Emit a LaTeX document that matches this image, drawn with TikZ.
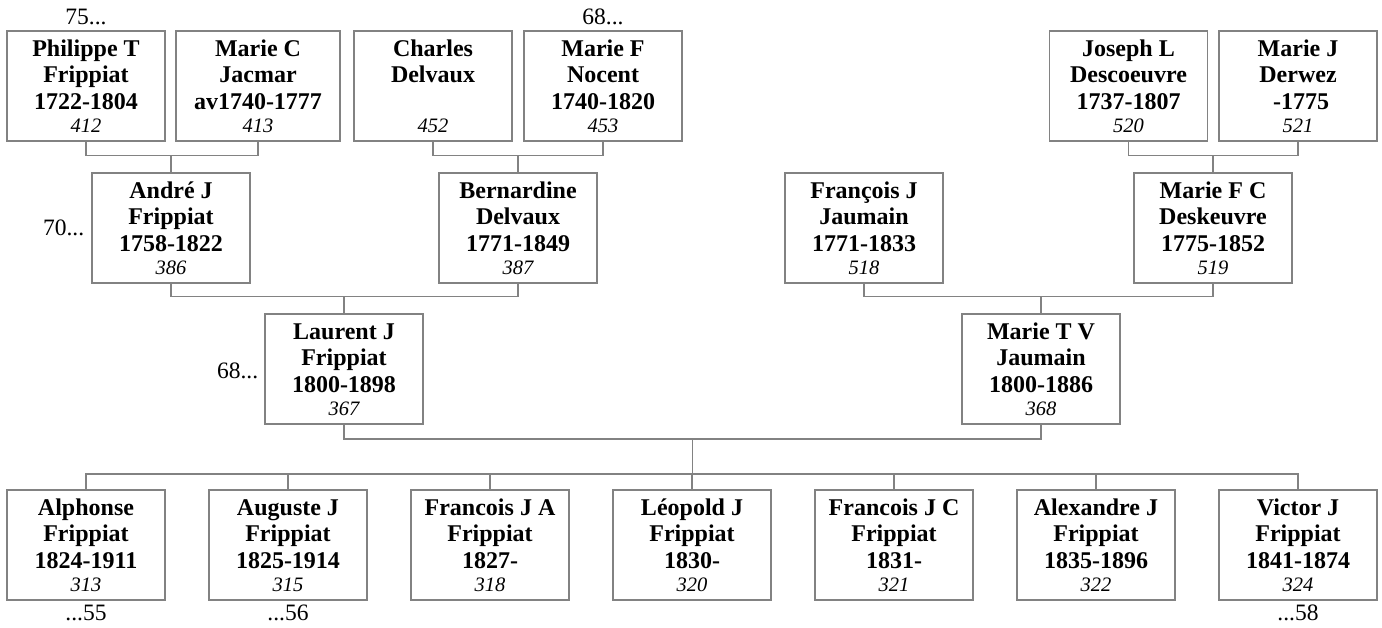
\documentclass[tikz,border=0pt]{standalone}
\usepackage{fontspec}
\setmainfont{Liberation Serif}
\definecolor{linegray}{RGB}{130,130,130}
\newcommand{\pers}[4]{\rule{0pt}{17pt}#1\\#2\\\mbox{}#3\\[-3.5pt]{\mdseries\itshape\fontsize{20.5}{21}\selectfont #4}}
\tikzset{
  person/.style={draw=linegray, line width=1.2pt, rectangle, inner sep=0pt,
    minimum width=158pt, minimum height=110pt, align=center,
    font=\fontsize{24}{26.5}\selectfont\bfseries},
  conn/.style={draw=linegray, line width=1.2pt},
  ref/.style={font=\fontsize{23.5}{26}\selectfont, inner sep=0pt}
}
\begin{document}
\begin{tikzpicture}[x=1pt,y=-1pt]
\useasboundingbox (0,0) rectangle (1382,628);
% top row
\node[person] (phil) at (86,86) {\pers{Philippe T}{Frippiat}{1722-1804}{412}};
\node[person, minimum width=164pt] (mc) at (258,86) {\pers{Marie C}{Jacmar}{av1740-1777}{413}};
\node[person] (charles) at (433,86) {\pers{Charles}{Delvaux}{}{452}};
\node[person] (mf) at (603,86) {\pers{Marie F}{Nocent}{1740-1820}{453}};
\node[person] (joseph) at (1128.5,86) {\pers{Joseph L}{Descoeuvre}{1737-1807}{520}};
\node[person] (mj) at (1298,86) {\pers{Marie J}{Derwez}{\ -1775}{521}};
% second row
\node[person] (andre) at (171,228) {\pers{André J}{Frippiat}{1758-1822}{386}};
\node[person] (bern) at (518,228) {\pers{Bernardine}{Delvaux}{1771-1849}{387}};
\node[person] (franc) at (864,228) {\pers{François J}{Jaumain}{1771-1833}{518}};
\node[person] (mfc) at (1213,228) {\pers{Marie F C}{Deskeuvre}{1775-1852}{519}};
% third row
\node[person] (laurent) at (344,369) {\pers{Laurent J}{Frippiat}{1800-1898}{367}};
\node[person] (mtv) at (1041,369) {\pers{Marie T V}{Jaumain}{1800-1886}{368}};
% children
\node[person] (c1) at (86,545) {\pers{Alphonse}{Frippiat}{1824-1911}{313}};
\node[person] (c2) at (288,545) {\pers{Auguste J}{Frippiat}{1825-1914}{315}};
\node[person] (c3) at (490,545) {\pers{Francois J A}{Frippiat}{1827-}{318}};
\node[person] (c4) at (692,545) {\pers{Léopold J}{Frippiat}{1830-}{320}};
\node[person] (c5) at (894,545) {\pers{Francois J C}{Frippiat}{1831-}{321}};
\node[person] (c6) at (1096,545) {\pers{Alexandre J}{Frippiat}{1835-1896}{322}};
\node[person] (c7) at (1298,545) {\pers{Victor J}{Frippiat}{1841-1874}{324}};
% reference labels
\node[ref, anchor=base] (r75) at ([yshift=6pt]phil.north) {75...};
\node[ref, anchor=base] (r68a) at ([yshift=6pt]mf.north) {68...};
\node[ref, anchor=east] (r70) at ([xshift=-7pt]andre.west) {70...};
\node[ref, anchor=east] (r68b) at ([xshift=-6pt,yshift=-2pt]laurent.west) {68...};
\node[ref, anchor=base] (r55) at ([yshift=-20pt]c1.south) {...55};
\node[ref, anchor=base] (r56) at ([yshift=-20pt]c2.south) {...56};
\node[ref, anchor=base] (r58) at ([yshift=-20pt]c7.south) {...58};
% connector coordinates
\path (andre.north) ++(0,-17) coordinate (b1);
\path (bern.north) ++(0,-17) coordinate (b2);
\path (mfc.north) ++(0,-17) coordinate (b3);
\path (laurent.north) ++(0,-17) coordinate (b4);
\path (mtv.north) ++(0,-17) coordinate (b5);
\coordinate (b6) at (692.5,439);
\coordinate (b7) at (692.5,474);
% connectors
\draw[conn] (phil.south) |- (b1) -| (mc.south);
\draw[conn] (b1) -- (andre.north);
\draw[conn] (charles.south) |- (b2) -| (mf.south);
\draw[conn] (b2) -- (bern.north);
\draw[conn] (joseph.south) |- (b3) -| (mj.south);
\draw[conn] (b3) -- (mfc.north);
\draw[conn] (andre.south) |- (b4) -| (bern.south);
\draw[conn] (b4) -- (laurent.north);
\draw[conn] (franc.south) |- (b5) -| (mfc.south);
\draw[conn] (b5) -- (mtv.north);
\draw[conn] (laurent.south) |- (b6) -| (mtv.south);
\draw[conn] (b6) -- (b7);
\draw[conn] (c1.north) |- (b7) -| (c7.north);
\foreach \c in {c2,c3,c4,c5,c6} {
  \draw[conn] (\c.north) -- (\c.north |- b7);
}
\end{tikzpicture}
\end{document}
